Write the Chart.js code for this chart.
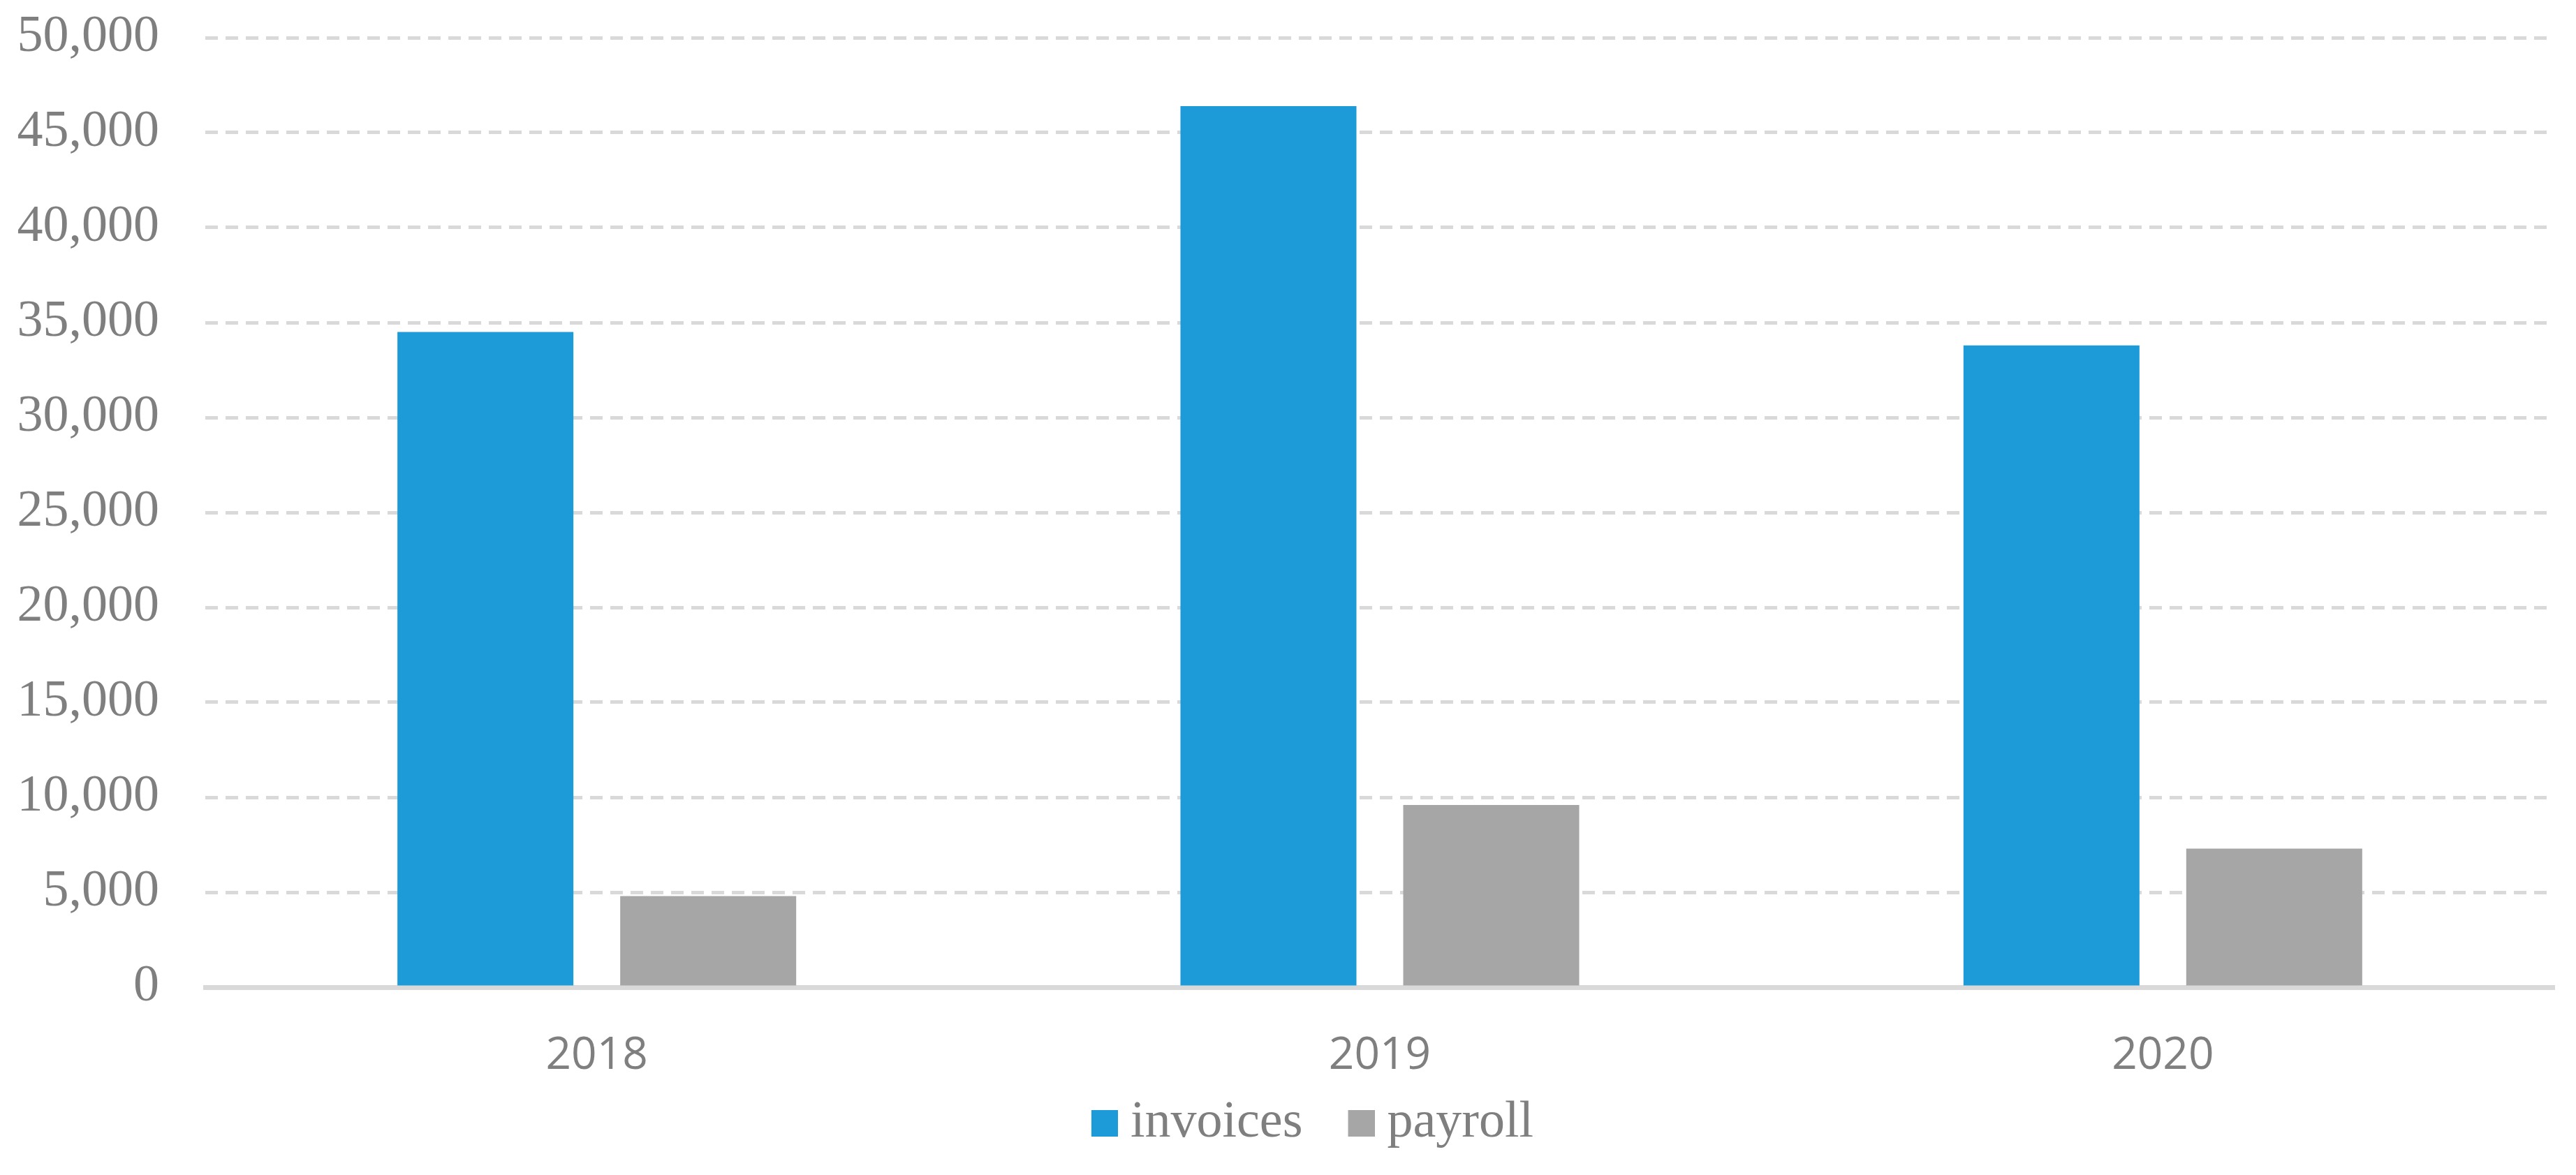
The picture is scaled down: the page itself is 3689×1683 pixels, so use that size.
<!DOCTYPE html>
<html>
<head>
<meta charset="utf-8">
<script src="https://cdn.jsdelivr.net/npm/chart.js@4"></script>
<style>
  html, body { margin: 0; padding: 0; background: #ffffff; }
  #wrap { width: 3689px; height: 1683px; }
</style>
</head>
<body>
<div id="wrap"><canvas id="c" width="3689" height="1683"></canvas></div>
<script>
const categories = ['2018', '2019', '2020'];
const invoices = [34500, 46400, 33800];
const payroll = [4800, 9600, 7300];
const yMin = 0;
const yMax = 50000;
const yStep = 5000;
const seriesNames = ['invoices', 'payroll'];
const seriesColors = ['#1d9bd8', '#a6a6a6'];

const textColor = '#7f7f7f';
const gridColor = '#d9d9d9';

// legend marker: a square drawn at the right side of a wider transparent image,
// so the marker sits close to its text while items keep a wide gap between them
const MARK = 38, SLOT = 66;
function markerImage(color) {
  const cv = document.createElement('canvas');
  cv.width = SLOT + MARK;
  cv.height = MARK;
  const g = cv.getContext('2d');
  g.fillStyle = color;
  g.fillRect(cv.width - MARK, 0, MARK, MARK);
  return cv;
}
const markers = seriesColors.map(markerImage);

// nudges the centred legend row to the right, like the reference
const legendShift = {
  id: 'legendShift',
  afterLayout(chart) {
    if (chart.legend) { chart.legend.left += 54; }
  }
};

new Chart(document.getElementById('c'), {
  type: 'bar',
  data: {
    labels: categories,
    datasets: [
      { label: seriesNames[0], data: invoices, backgroundColor: seriesColors[0], borderWidth: 0,
        categoryPercentage: 0.569, barPercentage: 0.79 },
      { label: seriesNames[1], data: payroll, backgroundColor: seriesColors[1], borderWidth: 0,
        categoryPercentage: 0.569, barPercentage: 0.79 }
    ]
  },
  plugins: [legendShift],
  options: {
    responsive: false,
    animation: false,
    devicePixelRatio: 1,
    layout: { padding: { left: 0, right: 31, top: 54, bottom: 27 } },
    plugins: {
      tooltip: { enabled: false },
      legend: {
        position: 'bottom',
        align: 'center',
        labels: {
          color: textColor,
          font: { family: '"Liberation Serif", "Times New Roman", serif', size: 74 },
          usePointStyle: true,
          pointStyleWidth: SLOT,
          boxHeight: MARK,
          padding: 18,
          generateLabels: (chart) => {
            const items = Chart.defaults.plugins.legend.labels.generateLabels(chart);
            items.forEach((it, i) => { it.pointStyle = markers[i]; });
            return items;
          }
        }
      }
    },
    scales: {
      x: {
        grid: { display: false, drawTicks: false },
        border: { display: true, color: gridColor, width: 7 },
        ticks: {
          color: textColor,
          font: { family: '"Open Sans", "Liberation Sans", sans-serif', size: 64 },
          padding: 60
        },
        afterFit: (s) => { s.height = 140; }
      },
      y: {
        min: yMin,
        max: yMax,
        ticks: {
          stepSize: yStep,
          color: textColor,
          font: { family: '"Liberation Serif", "Times New Roman", serif', size: 74 },
          padding: 66,
          callback: (v) => Number(v).toLocaleString('en-US')
        },
        grid: {
          drawTicks: false,
          lineWidth: 5,
          color: (ctx) => (ctx.tick && ctx.tick.value === 0) ? 'rgba(0,0,0,0)' : gridColor
        },
        border: { display: false, dash: [18, 11] },
        afterFit: (s) => { s.width = 294; s.paddingTop = 0; s.paddingBottom = 0; }
      }
    }
  }
});
</script>
</body>
</html>
